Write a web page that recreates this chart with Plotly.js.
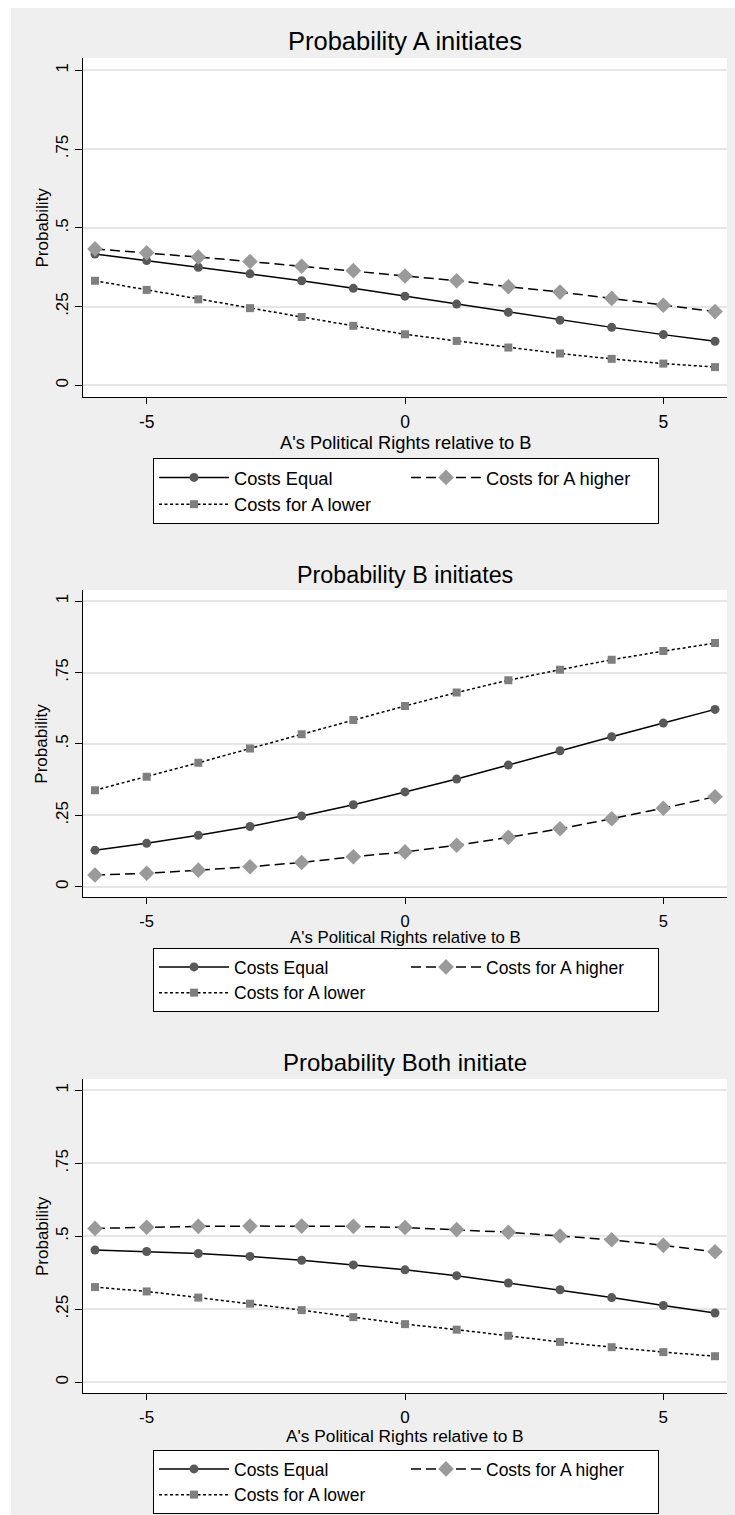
<!DOCTYPE html>
<html>
<head>
<meta charset="utf-8">
<script src="https://cdn.plot.ly/plotly-3.0.1.min.js"></script>
<style>
  html, body { margin: 0; padding: 0; background: #ffffff; }
  #chart { position: absolute; left: 11px; top: 8px; width: 724px; height: 1507px; }
</style>
</head>
<body>
<div id="chart"></div>
<script>
// ---- data ----
const xVals = [-6, -5, -4, -3, -2, -1, 0, 1, 2, 3, 4, 5, 6];
const seriesNames = ["Costs Equal", "Costs for A higher", "Costs for A lower"];
const panelTitles = ["Probability A initiates", "Probability B initiates", "Probability Both initiate"];
const xTitle = "A's Political Rights relative to B";
const yTitle = "Probability";
const xTickVals = [-5, 0, 5];
const xTickText = ["-5", "0", "5"];
const yTickVals = [0, 0.25, 0.5, 0.75, 1];
const yTickText = ["0", ".25", ".5", ".75", "1"];

// Probability A initiates
const aEqual  = [0.417, 0.396, 0.375, 0.354, 0.332, 0.308, 0.283, 0.258, 0.232, 0.207, 0.184, 0.161, 0.140];
const aHigher = [0.433, 0.421, 0.407, 0.393, 0.378, 0.364, 0.347, 0.332, 0.313, 0.296, 0.276, 0.254, 0.234];
const aLower  = [0.332, 0.303, 0.273, 0.245, 0.217, 0.189, 0.162, 0.141, 0.120, 0.101, 0.084, 0.069, 0.058];
// Probability B initiates
const bEqual  = [0.128, 0.152, 0.180, 0.211, 0.248, 0.287, 0.332, 0.377, 0.426, 0.476, 0.525, 0.573, 0.621];
const bHigher = [0.041, 0.047, 0.058, 0.070, 0.085, 0.105, 0.122, 0.145, 0.173, 0.203, 0.238, 0.275, 0.315];
const bLower  = [0.338, 0.385, 0.434, 0.484, 0.534, 0.584, 0.633, 0.680, 0.723, 0.760, 0.795, 0.825, 0.853];
// Probability Both initiate
const cEqual  = [0.453, 0.448, 0.441, 0.431, 0.418, 0.402, 0.385, 0.365, 0.340, 0.317, 0.290, 0.263, 0.237];
const cHigher = [0.527, 0.531, 0.534, 0.535, 0.535, 0.534, 0.530, 0.523, 0.514, 0.501, 0.488, 0.469, 0.447];
const cLower  = [0.326, 0.311, 0.290, 0.269, 0.247, 0.223, 0.199, 0.180, 0.159, 0.138, 0.120, 0.103, 0.089];

const panelData = [[aEqual, aHigher, aLower], [bEqual, bHigher, bLower], [cEqual, cHigher, cLower]];

// ---- styling ----
const FONT = "Liberation Sans, Arial, sans-serif";
const styles = [
  { dash: "solid", symbol: "circle", mcolor: "#595959", msize: 9 },
  { dash: "10px,5px", symbol: "diamond", mcolor: "#9a9a9a", msize: 12 },
  { dash: "3px,2.5px", symbol: "square", mcolor: "#7f7f7f", msize: 8 }
];

const H = 1507, PLOT_L = 83, PLOT_W = 644;
const py = Y => 1 - (Y - 8) / H;           // page y -> paper y
const px = X => (X - PLOT_L) / PLOT_W;     // page x -> paper x

const panels = [
  { top: 58,   bottom: 397,   title: 41,   titleSize: 25.5, xt: 442,  xtSize: 18.3, legTop: 458,  legSize: 18.3, tick: 17.5, standoff: 3 },
  { top: 590,  bottom: 897.3, title: 575,  titleSize: 23.3, xt: 937,  xtSize: 16.8, legTop: 948,  legSize: 17.5, tick: 16.5, standoff: 3 },
  { top: 1079, bottom: 1393,  title: 1062, titleSize: 24,   xt: 1436, xtSize: 17.3, legTop: 1450, legSize: 17.5, tick: 17,   standoff: 3 }
];

const traces = [];
const layout = {
  width: 724, height: 1507,
  paper_bgcolor: "#efefef",
  plot_bgcolor: "#ffffff",
  margin: { l: 72, r: 8, t: 0, b: 0, pad: 0 },
  font: { family: FONT, color: "#000000", size: 17 },
  showlegend: true,
  annotations: []
};

panels.forEach((p, i) => {
  const sfx = i === 0 ? "" : String(i + 1);
  const legName = "legend" + sfx;
  panelData[i].forEach((ys, k) => {
    const s = styles[k];
    traces.push({
      type: "scatter", mode: "lines+markers",
      x: xVals, y: ys, name: seriesNames[k],
      xaxis: "x" + sfx, yaxis: "y" + sfx,
      legend: legName,
      line: { color: "#000000", width: 1.5, dash: s.dash },
      marker: { symbol: s.symbol, color: s.mcolor, size: s.msize, line: { width: 0 } },
      hoverinfo: "x+y"
    });
  });

  layout["xaxis" + sfx] = {
    domain: [0, 1], anchor: "y" + sfx,
    range: [-6.232, 6.232],
    tickmode: "array", tickvals: xTickVals, ticktext: xTickText,
    ticks: "outside", ticklen: 6, tickwidth: 1, tickcolor: "#000000",
    ticklabelstandoff: p.standoff,
    showline: true, linecolor: "#000000", linewidth: 1,
    showgrid: false, zeroline: false,
    tickfont: { family: FONT, size: p.tick, color: "#000000" }
  };
  layout["yaxis" + sfx] = {
    domain: [py(p.bottom), py(p.top)], anchor: "x" + sfx,
    range: [-0.037, 1.039],
    tickmode: "array", tickvals: yTickVals, ticktext: yTickText,
    tickangle: -90,
    ticks: "outside", ticklen: 7, tickwidth: 1, tickcolor: "#000000",
    showline: true, linecolor: "#000000", linewidth: 1,
    showgrid: true, gridcolor: "#e6e6e6", gridwidth: 1.5,
    zeroline: false,
    tickfont: { family: FONT, size: 17, color: "#000000" }
  };
  layout[legName] = {
    orientation: "h",
    x: px(153), xanchor: "left", xref: "paper",
    y: py(p.legTop), yanchor: "top", yref: "paper",
    bgcolor: "#ffffff", bordercolor: "#000000", borderwidth: 1,
    entrywidth: 167, entrywidthmode: "pixels",
    itemwidth: 70,
    traceorder: "normal",
    font: { family: FONT, size: p.legSize, color: "#000000" }
  };

  layout.annotations.push(
    { text: panelTitles[i], xref: "paper", yref: "paper", x: 0.5, y: py(p.title),
      xanchor: "center", yanchor: "middle", showarrow: false,
      font: { family: FONT, size: p.titleSize, color: "#000000" } },
    { text: xTitle, xref: "paper", yref: "paper", x: 0.5, y: py(p.xt),
      xanchor: "center", yanchor: "middle", showarrow: false,
      font: { family: FONT, size: p.xtSize, color: "#000000" } },
    { text: yTitle, xref: "paper", yref: "paper", x: px(42), y: py((p.top + p.bottom) / 2),
      xanchor: "center", yanchor: "middle", textangle: -90, showarrow: false,
      font: { family: FONT, size: 17, color: "#000000" } }
  );
});

Plotly.newPlot("chart", traces, layout, { displayModeBar: false, responsive: false });
</script>
</body>
</html>
